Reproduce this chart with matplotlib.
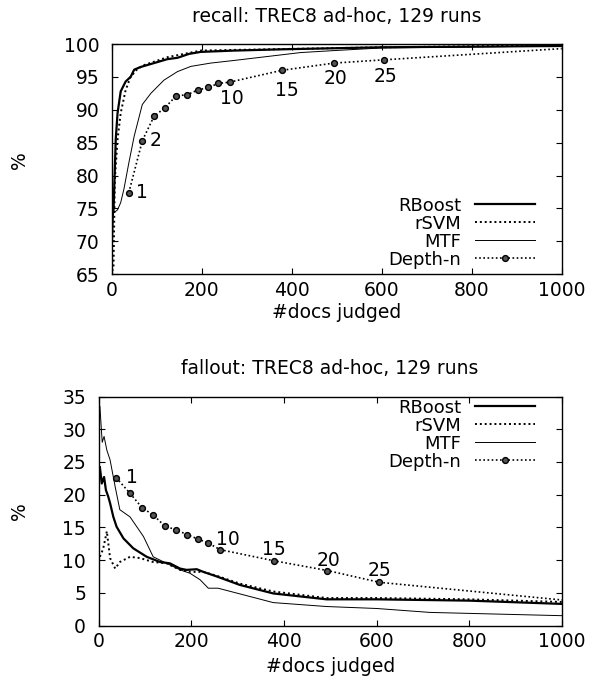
import matplotlib
matplotlib.use("Agg")
import matplotlib.pyplot as plt

plt.rcParams['font.family'] = ['DejaVu Sans']
plt.rcParams['font.size'] = 13.5

# Depth-n: number of docs judged at each pool depth
depth_labels = [1, 2, 3, 4, 5, 6, 7, 8, 9, 10, 15, 20, 25]
depth_docs = [38, 68, 94, 118, 143, 168, 191, 215, 237, 262, 378, 494, 606]
depth_recall = [77.4, 85.3, 89.0, 90.3, 92.1, 92.3, 93.0, 93.4, 94.0, 94.2, 96.0, 97.1, 97.6]
depth_fallout = [22.6, 20.2, 18.0, 16.9, 15.2, 14.6, 13.9, 13.2, 12.6, 11.6, 9.9, 8.4, 6.6]
# line keeps going past depth 25 (clipped at 1000 docs)
depth_tail_docs = 1000
depth_tail_recall = 99.3
depth_tail_fallout = 3.9

# recall curves
rb_rec_x = [1, 4, 9, 13, 20, 31, 42, 50, 64, 94, 124, 146, 172, 198, 272, 383, 600, 1000]
rb_rec_y = [74.0, 74.6, 85.5, 89.5, 92.8, 94.3, 95.0, 96.1, 96.5, 97.1, 97.7, 97.9, 98.5, 98.8, 99.0, 99.2, 99.5, 99.7]
sv_rec_x = [1, 4, 7, 13, 20, 31, 42, 57, 72, 124, 198, 272, 600, 1000]
sv_rec_y = [65.5, 66.0, 79.4, 85.5, 89.5, 93.0, 95.0, 96.2, 96.8, 98.0, 99.0, 99.1, 99.5, 99.8]
mtf_rec_x = [1, 4, 13, 20, 27, 38, 50, 68, 87, 116, 146, 176, 220, 272, 346, 420, 494, 600, 1000]
mtf_rec_y = [68.0, 74.3, 74.8, 75.9, 77.9, 81.9, 86.0, 90.8, 92.5, 94.5, 95.8, 96.6, 97.1, 97.5, 98.1, 98.7, 99.0, 99.4, 99.7]

# fallout curves
rb_fal_x = [3, 7, 12, 16, 21, 25, 32, 39, 54, 75, 104, 133, 154, 176, 190, 212, 226, 255, 305, 377, 492, 600, 800, 1000]
rb_fal_y = [24.2, 21.7, 22.7, 20.7, 19.7, 18.7, 16.6, 15.1, 13.3, 11.8, 10.5, 9.7, 9.5, 8.7, 8.5, 8.6, 8.2, 7.5, 6.2, 4.9, 4.0, 4.0, 3.8, 3.3]
sv_fal_x = [3, 10, 18, 25, 36, 46, 68, 90, 118, 147, 176, 197, 226, 255, 305, 377, 492, 600, 800, 1000]
sv_fal_y = [10.5, 11.7, 14.4, 10.3, 8.7, 9.7, 10.5, 10.3, 9.7, 9.5, 8.5, 8.2, 8.2, 7.6, 6.4, 5.2, 4.2, 4.2, 4.0, 3.6]
mtf_fal_x = [3, 8, 12, 18, 25, 36, 46, 68, 97, 118, 147, 176, 197, 219, 237, 258, 377, 492, 600, 715, 1000]
mtf_fal_y = [33.5, 28.0, 28.9, 26.8, 25.3, 21.2, 17.7, 16.6, 13.6, 10.5, 9.5, 8.5, 8.0, 7.0, 5.7, 5.7, 3.5, 2.9, 2.6, 2.0, 1.5]

title_rec = "recall: TREC8 ad-hoc, 129 runs"
title_fal = "fallout: TREC8 ad-hoc, 129 runs"
rec_marked = {1: (7, 0, 'left', 'center'), 2: (7, 0, 'left', 'center'),
              10: (2, -16, 'center', 'center'), 15: (5, -20, 'center', 'center'),
              20: (1, -15, 'center', 'center'), 25: (1, -17, 'center', 'center')}
fal_marked = {1: (16, 0, 'center', 'center'), 10: (8, 10, 'center', 'center'),
              15: (0, 11, 'center', 'center'), 20: (1, 10, 'center', 'center'),
              25: (0, 12, 'center', 'center')}

W, H = 592, 680
fig = plt.figure(figsize=(W / 100, H / 100), dpi=100)


def frac(l, t, r, b):
    return [l / W, 1 - b / H, (r - l) / W, (b - t) / H]


def draw(ax, rb, sv, mtf, dep_y, tail_y, marked):
    ax.plot(rb[0], rb[1], color='black', lw=1.6, label='RBoost')
    ax.plot(sv[0], sv[1], color='black', lw=1.4, ls=(0, (1, 1.5)), label='rSVM')
    ax.plot(mtf[0], mtf[1], color='black', lw=0.7, label='MTF')
    ax.plot(depth_docs + [depth_tail_docs], dep_y + [tail_y], color='black', lw=1.2,
            ls=(0, (1, 1.5)), marker='o', ms=4.2, mfc='#555555', mec='black', mew=1.0,
            markevery=list(range(len(depth_docs))), label='Depth-n')
    for d, x, y in zip(depth_labels, depth_docs, dep_y):
        if d in marked:
            dx, dy, ha, va = marked[d]
            ax.annotate(str(d), (x, y), xytext=(dx, dy), textcoords='offset pixels',
                        ha=ha, va=va)
    ax.set_xlim(0, 1000)
    ax.set_xticks(range(0, 1001, 200))
    ax.tick_params(direction='in', length=4, width=0.8, top=True, right=True, pad=5)
    ax.tick_params(axis='y', pad=9)
    for s in ax.spines.values():
        s.set_linewidth(1.0)


leg_kw = dict(frameon=False, markerfirst=False, handlelength=3.3, handletextpad=0.78,
              labelspacing=0.0, borderpad=0, borderaxespad=0, numpoints=1, fontsize=13)

ax1 = fig.add_axes(frac(111.7, 44, 561.7, 274.3))
draw(ax1, (rb_rec_x, rb_rec_y), (sv_rec_x, sv_rec_y), (mtf_rec_x, mtf_rec_y),
     depth_recall, depth_tail_recall, rec_marked)
ax1.set_ylim(65, 100)
ax1.set_yticks(range(65, 101, 5))
ax1.set_xlabel('#docs judged', labelpad=2)
ax1.legend(loc='lower right', bbox_to_anchor=((535 - 111.7) / 450, 0.025), **leg_kw)

ax2 = fig.add_axes(frac(98.5, 396.5, 562, 625.5))
draw(ax2, (rb_fal_x, rb_fal_y), (sv_fal_x, sv_fal_y), (mtf_fal_x, mtf_fal_y),
     depth_fallout, depth_tail_fallout, fal_marked)
ax2.set_ylim(0, 35)
ax2.set_yticks(range(0, 36, 5))
ax2.set_xlabel('#docs judged', labelpad=4)
ax2.legend(loc='upper right', bbox_to_anchor=((535 - 98.5) / 463.5, 0.99), **leg_kw)

fig.text(337 / W, 1 - 17 / H, title_rec, ha='center', va='center')
fig.text(330 / W, 1 - 369 / H, title_fal, ha='center', va='center')
fig.text(20 / W, 1 - 160 / H, '%', ha='center', va='center', rotation=90)
fig.text(20 / W, 1 - 511 / H, '%', ha='center', va='center', rotation=90)

fig.savefig('out.png', dpi=100)
